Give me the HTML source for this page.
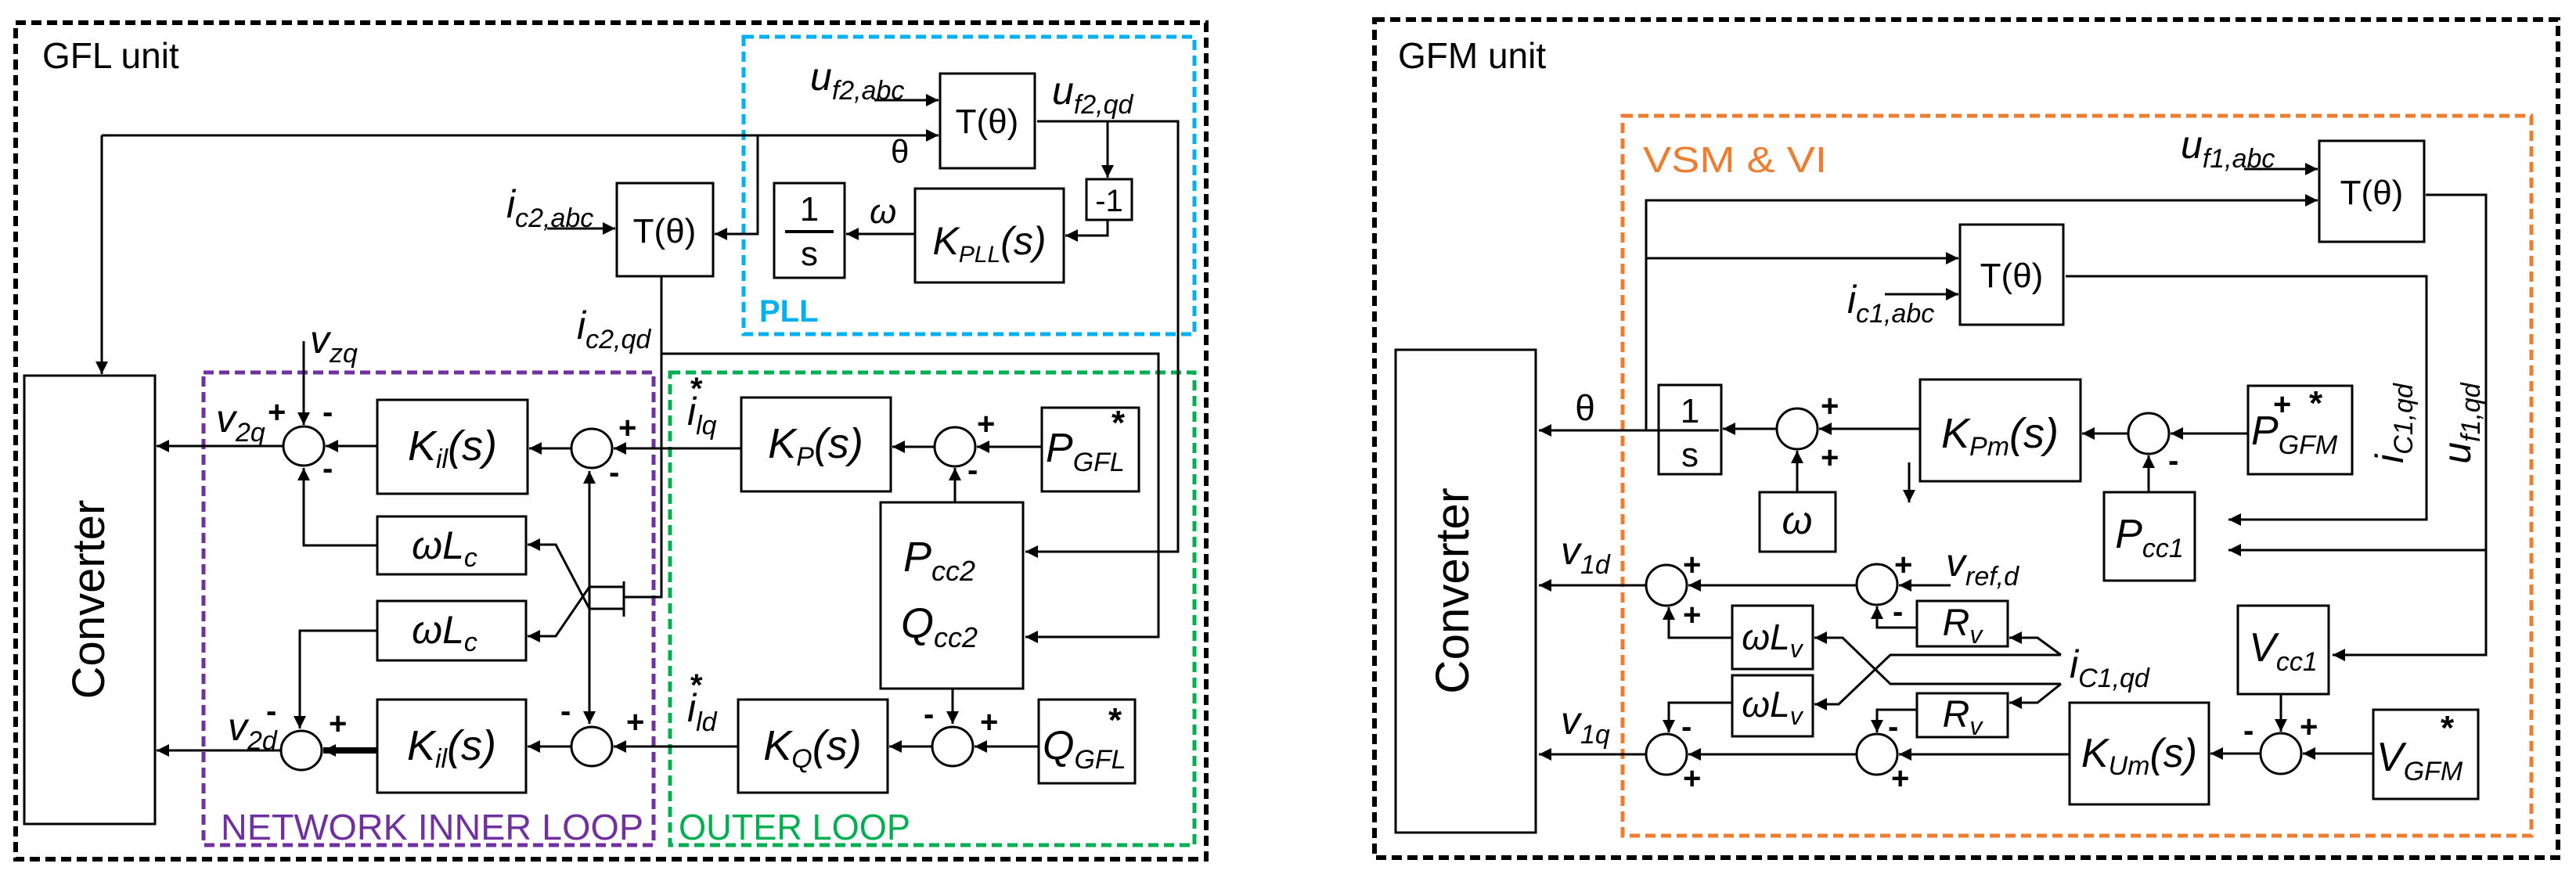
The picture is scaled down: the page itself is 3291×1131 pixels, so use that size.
<!DOCTYPE html>
<html><head><meta charset="utf-8"><style>
html,body{margin:0;padding:0;background:#fff}
svg{display:block}
text{font-family:"Liberation Sans",sans-serif;fill:#000}
.i{font-style:italic}
.c{text-anchor:middle}
.s{font-weight:bold;font-size:40px}
</style></head><body>
<svg width="3291" height="1131" viewBox="0 0 3291 1131" xmlns="http://www.w3.org/2000/svg">
<defs><marker id="a" viewBox="0 0 10 10" refX="10" refY="5" markerWidth="20" markerHeight="16" markerUnits="userSpaceOnUse" orient="auto"><path d="M0,0L10,5L0,10z" fill="#000"/></marker></defs>

<!-- ============ GFL ============ -->
<g fill="none" stroke-width="6" stroke-dasharray="13 7">
<rect x="20" y="29" width="1521" height="1069" stroke="#000"/>
<rect x="950" y="47" width="576" height="380" stroke="#00b0f0" stroke-width="5"/>
<rect x="260" y="476" width="575" height="604" stroke="#7030a0" stroke-width="5"/>
<rect x="856" y="476" width="670" height="604" stroke="#00b050" stroke-width="5"/>
</g>
<g fill="#fff" stroke="#000" stroke-width="3">
<rect x="31" y="480" width="167" height="573"/>
<rect x="1201" y="94" width="121" height="121"/>
<rect x="1388" y="229" width="58" height="52"/>
<rect x="1169" y="241" width="190" height="120"/>
<rect x="989" y="234" width="90" height="121"/>
<rect x="788" y="234" width="123" height="119"/>
<rect x="482" y="511" width="192" height="120"/>
<rect x="947" y="508" width="191" height="120"/>
<rect x="1331" y="521" width="124" height="107"/>
<rect x="1125" y="642" width="182" height="238"/>
<rect x="482" y="660" width="190" height="74"/>
<rect x="482" y="768" width="190" height="76"/>
<rect x="482" y="894" width="190" height="119"/>
<rect x="943" y="894" width="191" height="119"/>
<rect x="1327" y="894" width="123" height="107"/>
<ellipse cx="388" cy="570" rx="26" ry="25"/>
<ellipse cx="756" cy="573" rx="26" ry="25"/>
<ellipse cx="1220" cy="571" rx="26" ry="25"/>
<ellipse cx="385" cy="959" rx="26" ry="25"/>
<ellipse cx="756" cy="954" rx="26" ry="25"/>
<ellipse cx="1217" cy="954" rx="26" ry="25"/>
</g>
<g fill="none" stroke="#000" stroke-width="3" marker-end="url(#a)">
<path d="M130,173H1199"/>
<path d="M130,173V478"/>
<path d="M968,173V299H913" marker-end="url(#a)"/>
<path d="M1169,299H1081"/>
<path d="M1117,128H1199"/>
<path d="M1325,155H1505V705H1310"/>
<path d="M1415,155V227"/>
<path d="M1415,281V301H1361"/>
<path d="M699,292H786"/>
<path d="M845,452H1480V814H1310"/>
<path d="M753,750L710,813H674"/>
<path d="M753,778L710,696H674"/>
<path d="M362,570H200"/>
<path d="M388,436V543"/>
<path d="M482,570H416"/>
<path d="M730,573H676"/>
<path d="M947,573H784"/>
<path d="M1194,571H1140"/>
<path d="M1331,571H1248"/>
<path d="M1220,642V598"/>
<path d="M482,697H388V598"/>
<path d="M482,806H383V931"/>
<path d="M753,764V602"/>
<path d="M753,764V925"/>
<path d="M359,959H200"/>
<path d="M482,959H413" stroke-width="8"/>
<path d="M730,954H674"/>
<path d="M943,954H784"/>
<path d="M1191,954H1136"/>
<path d="M1327,954H1245"/>
<path d="M1217,880V925"/>
</g>
<g fill="none" stroke="#000" stroke-width="3">
<path d="M845,353V763H797M797,743V788M797,750H753M797,778H753"/>
<path d="M1003,296H1065" stroke-width="4"/>
</g>
<text x="54" y="87" font-size="46">GFL unit</text>
<text x="1035" y="115" class="i" font-size="50">u<tspan font-size="34" dy="12">f2,abc</tspan></text>
<text x="1261" y="170" class="c" font-size="44">T(θ)</text>
<text x="1344" y="133" class="i" font-size="50">u<tspan font-size="34" dy="12">f2,qd</tspan></text>
<text x="1138" y="208" font-size="42">θ</text>
<text x="647" y="278" class="i" font-size="50">i<tspan font-size="34" dy="12">c2,abc</tspan></text>
<text x="849" y="310" class="c" font-size="44">T(θ)</text>
<text x="1034" y="282" class="c" font-size="44">1</text>
<text x="1034" y="339" class="c" font-size="44">s</text>
<text x="1111" y="285" class="i" font-size="44">ω</text>
<text x="1264" y="325" class="c i" font-size="50">K<tspan font-size="30" dy="10">PLL</tspan><tspan dy="-10">(s)</tspan></text>
<text x="1417" y="270" class="c" font-size="40">-1</text>
<text x="970" y="411" font-size="40" font-weight="bold" style="fill:#00b0f0">PLL</text>
<text x="737" y="433" class="i" font-size="50">i<tspan font-size="34" dy="12">c2,qd</tspan></text>
<text x="396" y="451" class="i" font-size="50">v<tspan font-size="34" dy="12">zq</tspan></text>
<text x="276" y="552" class="i" font-size="50">v<tspan font-size="34" dy="12">2q</tspan></text>
<text x="342" y="540" class="s">+</text>
<text x="412" y="540" class="s">-</text>
<text x="412" y="612" class="s">-</text>
<text x="790" y="560" class="s">+</text>
<text x="778" y="617" class="s">-</text>
<text x="1248" y="555" class="s" font-size="50">+</text>
<text x="1236" y="614" class="s">-</text>
<text x="878" y="543" class="i" font-size="50">i<tspan font-size="34" dy="12">lq</tspan></text>
<text x="882" y="510" font-size="40" font-weight="bold">*</text>
<text x="1042" y="585" class="c i" font-size="54">K<tspan font-size="34" dy="10">P</tspan><tspan dy="-10">(s)</tspan></text>
<text x="1336" y="590" class="i" font-size="52">P<tspan font-size="34" dy="12">GFL</tspan></text>
<text x="1420" y="555" font-size="44" font-weight="bold">*</text>
<text x="1200" y="730" class="c i" font-size="54">P<tspan font-size="36" dy="12">cc2</tspan></text>
<text x="1200" y="815" class="c i" font-size="54">Q<tspan font-size="36" dy="12">cc2</tspan></text>
<text x="568" y="714" class="c i" font-size="50">ωL<tspan font-size="34" dy="10">c</tspan></text>
<text x="568" y="822" class="c i" font-size="50">ωL<tspan font-size="34" dy="10">c</tspan></text>
<text x="578" y="588" class="c i" font-size="54">K<tspan font-size="34" dy="10">il</tspan><tspan dy="-10">(s)</tspan></text>
<text x="577" y="971" class="c i" font-size="54">K<tspan font-size="34" dy="10">il</tspan><tspan dy="-10">(s)</tspan></text>
<text x="291" y="946" class="i" font-size="50">v<tspan font-size="34" dy="12">2d</tspan></text>
<text x="340" y="922" class="s">-</text>
<text x="420" y="938" class="s">+</text>
<text x="716" y="922" class="s">-</text>
<text x="800" y="936" class="s">+</text>
<text x="1180" y="926" class="s">-</text>
<text x="1252" y="936" class="s">+</text>
<text x="878" y="922" class="i" font-size="50">i<tspan font-size="34" dy="12">ld</tspan></text>
<text x="882" y="889" font-size="40" font-weight="bold">*</text>
<text x="1038" y="971" class="c i" font-size="54">K<tspan font-size="34" dy="10">Q</tspan><tspan dy="-10">(s)</tspan></text>
<text x="1332" y="970" class="i" font-size="52">Q<tspan font-size="34" dy="12">GFL</tspan></text>
<text x="1416" y="935" font-size="44" font-weight="bold">*</text>
<text x="282" y="1073" font-size="46" textLength="540" lengthAdjust="spacingAndGlyphs" style="fill:#7030a0">NETWORK INNER LOOP</text>
<text x="867" y="1073" font-size="46" textLength="296" lengthAdjust="spacingAndGlyphs" style="fill:#00b050">OUTER LOOP</text>
<text transform="translate(133,766) rotate(-90)" class="c" font-size="58">Converter</text>

<!-- ============ GFM ============ -->
<g fill="none" stroke-width="6" stroke-dasharray="13 7">
<rect x="1756" y="25" width="1512" height="1071" stroke="#000"/>
<rect x="2073" y="148" width="1161" height="920" stroke="#ed7d31" stroke-width="5"/>
</g>
<g fill="#fff" stroke="#000" stroke-width="3">
<rect x="1783" y="447" width="179" height="617"/>
<rect x="2963" y="180" width="134" height="129"/>
<rect x="2504" y="287" width="132" height="128"/>
<rect x="2119" y="492" width="80" height="114"/>
<rect x="2248" y="629" width="97" height="76"/>
<rect x="2453" y="485" width="205" height="130"/>
<rect x="2872" y="493" width="133" height="113"/>
<rect x="2688" y="629" width="116" height="113"/>
<rect x="2449" y="768" width="116" height="58"/>
<rect x="2213" y="774" width="103" height="81"/>
<rect x="2213" y="863" width="103" height="78"/>
<rect x="2449" y="886" width="116" height="56"/>
<rect x="2644" y="898" width="178" height="130"/>
<rect x="2859" y="774" width="116" height="113"/>
<rect x="3032" y="907" width="134" height="114"/>
<ellipse cx="2296" cy="548" rx="26" ry="26"/>
<ellipse cx="2745" cy="554" rx="26" ry="26"/>
<ellipse cx="2129" cy="748" rx="26" ry="26"/>
<ellipse cx="2398" cy="747" rx="26" ry="26"/>
<ellipse cx="2129" cy="964" rx="26" ry="26"/>
<ellipse cx="2398" cy="964" rx="26" ry="26"/>
<ellipse cx="2914" cy="963" rx="26" ry="26"/>
</g>
<g fill="none" stroke="#000" stroke-width="3" marker-end="url(#a)">
<path d="M2103,550V256H2961"/>
<path d="M2103,330H2502"/>
<path d="M2867,216H2961"/>
<path d="M3099,249H3176V837H2980"/>
<path d="M3176,703H2847"/>
<path d="M2408,376H2502"/>
<path d="M2639,353H3100V664H2847"/>
<path d="M2196,550H1966"/>
<path d="M2270,548H2201"/>
<path d="M2453,548H2324"/>
<path d="M2296,629V576"/>
<path d="M2439,591V642"/>
<path d="M2719,554H2660"/>
<path d="M2872,554H2773"/>
<path d="M2745,629V582"/>
<path d="M2492,748H2426"/>
<path d="M2372,748H2157"/>
<path d="M2103,748H1966"/>
<path d="M2449,802H2398V775"/>
<path d="M2213,815H2132V776"/>
<path d="M2213,898H2132V936"/>
<path d="M2449,907H2398V936"/>
<path d="M2372,964H2157"/>
<path d="M2103,964H1966"/>
<path d="M2644,964H2426"/>
<path d="M2888,963H2824"/>
<path d="M3032,963H2942"/>
<path d="M2914,887V935"/>
<path d="M2633,837H2415L2349,900H2318"/>
<path d="M2633,874H2415L2354,815H2318"/>
<path d="M2633,837L2603,815H2567"/>
<path d="M2633,874L2603,898H2567"/>
</g>
<path d="M2133,550H2185" stroke="#000" stroke-width="3"/>
<text x="1786" y="87" font-size="46">GFM unit</text>
<text x="2099" y="220" font-size="46" textLength="235" lengthAdjust="spacingAndGlyphs" style="fill:#ed7d31">VSM &amp; VI</text>
<text x="2786" y="202" class="i" font-size="50">u<tspan font-size="34" dy="12">f1,abc</tspan></text>
<text x="3030" y="261" class="c" font-size="44">T(θ)</text>
<text x="2570" y="367" class="c" font-size="44">T(θ)</text>
<text x="2360" y="400" class="i" font-size="50">i<tspan font-size="34" dy="12">c1,abc</tspan></text>
<text transform="translate(3070,541) rotate(-90)" class="c i" font-size="50">i<tspan font-size="34" dy="12">C1,qd</tspan></text>
<text transform="translate(3156,541) rotate(-90)" class="c i" font-size="50">u<tspan font-size="34" dy="12">f1,qd</tspan></text>
<text x="2025" y="537" class="c" font-size="46">θ</text>
<text x="2159" y="540" class="c" font-size="44">1</text>
<text x="2159" y="596" class="c" font-size="44">s</text>
<text x="2326" y="532" class="s">+</text>
<text x="2326" y="598" class="s">+</text>
<text x="2296" y="682" class="c i" font-size="50">ω</text>
<text x="2555" y="572" class="c i" font-size="54">K<tspan font-size="34" dy="10">Pm</tspan><tspan dy="-10">(s)</tspan></text>
<text x="2770" y="602" class="s">-</text>
<text x="2876" y="568" class="i" font-size="52">P<tspan font-size="34" dy="12">GFM</tspan></text>
<text x="2904" y="530" class="s">+</text>
<text x="2950" y="530" font-size="44" font-weight="bold">*</text>
<text x="2746" y="700" class="c i" font-size="52">P<tspan font-size="34" dy="12">cc1</tspan></text>
<text x="1994" y="721" class="i" font-size="50">v<tspan font-size="34" dy="12">1d</tspan></text>
<text x="2150" y="735" class="s">+</text>
<text x="2150" y="799" class="s">+</text>
<text x="2420" y="735" class="s">+</text>
<text x="2418" y="795" class="s">-</text>
<text x="2486" y="736" class="i" font-size="50">v<tspan font-size="34" dy="12">ref,d</tspan></text>
<text x="2507" y="812" class="c i" font-size="48">R<tspan font-size="32" dy="10">v</tspan></text>
<text x="2507" y="929" class="c i" font-size="48">R<tspan font-size="32" dy="10">v</tspan></text>
<text x="2264" y="830" class="c i" font-size="46">ωL<tspan font-size="32" dy="10">v</tspan></text>
<text x="2264" y="916" class="c i" font-size="46">ωL<tspan font-size="32" dy="10">v</tspan></text>
<text x="2644" y="866" class="i" font-size="50">i<tspan font-size="34" dy="12">C1,qd</tspan></text>
<text x="1994" y="938" class="i" font-size="50">v<tspan font-size="34" dy="12">1q</tspan></text>
<text x="2148" y="942" class="s">-</text>
<text x="2150" y="1008" class="s">+</text>
<text x="2412" y="942" class="s">-</text>
<text x="2416" y="1008" class="s">+</text>
<text x="2733" y="980" class="c i" font-size="52">K<tspan font-size="34" dy="10">Um</tspan><tspan dy="-10">(s)</tspan></text>
<text x="2866" y="947" class="s">-</text>
<text x="2938" y="942" class="s">+</text>
<text x="2917" y="845" class="c i" font-size="52">V<tspan font-size="34" dy="12">cc1</tspan></text>
<text x="3036" y="985" class="i" font-size="52">V<tspan font-size="34" dy="12">GFM</tspan></text>
<text x="3118" y="945" font-size="44" font-weight="bold">*</text>
<text transform="translate(1876,755) rotate(-90)" class="c" font-size="60">Converter</text>
</svg>
</body></html>
